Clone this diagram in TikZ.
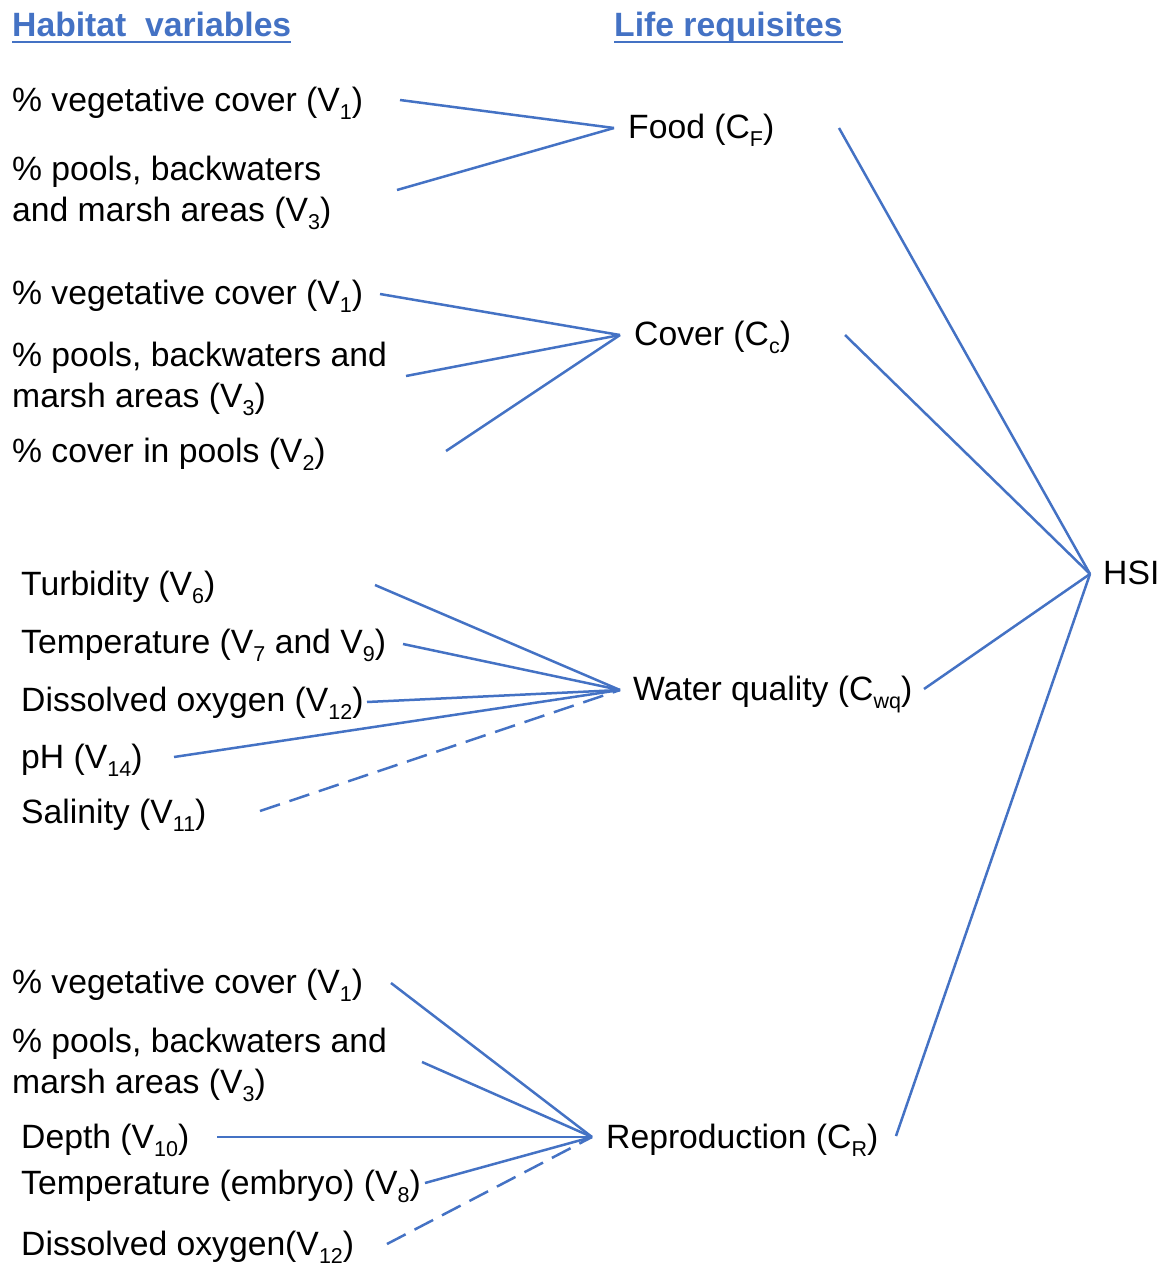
\documentclass[tikz,border=0pt]{standalone}
\usepackage{fontspec}
\setmainfont{Liberation Sans}
\definecolor{lnblue}{HTML}{4472C4}
\newcommand\sbx[1]{\raisebox{-0.25em}{\fontsize{21.5}{21.5}\selectfont #1}}
\begin{document}
\begin{tikzpicture}[x=1pt,y=-1pt,
  lbl/.style={anchor=base west, inner sep=0pt, font=\fontsize{33.7}{40}\selectfont},
  ttl/.style={lbl, font=\fontsize{33.7}{40}\selectfont\bfseries, text=lnblue},
  uline/.style={draw=lnblue, line width=2pt},
  link/.style={draw=lnblue, line width=2.5pt},
  dlink/.style={link, dash pattern=on 21pt off 10pt}]
\useasboundingbox (0,0) rectangle (1168,1266);

% titles
\node[ttl] (hv) at (12,36) {Habitat\ \ variables};
\node[ttl] (lr) at (614,36) {Life requisites};
\draw[uline] ([yshift=-6pt]hv.base west) -- ([yshift=-6pt]hv.base east);
\draw[uline] ([yshift=-6pt]lr.base west) -- ([yshift=-6pt]lr.base east);

% Food group
\node[lbl] (f1) at (12,111) {\% vegetative cover (V\sbx{1})};
\node[lbl] (f2a) at (12,180) {\% pools, backwaters};
\node[lbl] (f2b) at (12,221) {and marsh areas (V\sbx{3})};
\node[lbl] (food) at (628,138) {Food (C\sbx{F})};

% Cover group
\node[lbl] (c1) at (12,304) {\% vegetative cover (V\sbx{1})};
\node[lbl] (c2a) at (12,366) {\% pools, backwaters and};
\node[lbl] (c2b) at (12,407) {marsh areas (V\sbx{3})};
\node[lbl] (c3) at (12,462) {\% cover in pools (V\sbx{2})};
\node[lbl] (cover) at (634,345) {Cover (C\sbx{c})};

% Water quality group
\node[lbl] (w1) at (21,595) {Turbidity (V\sbx{6})};
\node[lbl] (w2) at (21,653) {Temperature (V\sbx{7} and V\sbx{9})};
\node[lbl] (w3) at (21,711) {Dissolved oxygen (V\sbx{12})};
\node[lbl] (w4) at (21,768) {pH (V\sbx{14})};
\node[lbl] (w5) at (21,823) {Salinity (V\sbx{11})};
\node[lbl] (wq) at (633,700) {Water quality (C\sbx{wq})};

% Reproduction group
\node[lbl] (r1) at (12,993) {\% vegetative cover (V\sbx{1})};
\node[lbl] (r2a) at (12,1052) {\% pools, backwaters and};
\node[lbl] (r2b) at (12,1093) {marsh areas (V\sbx{3})};
\node[lbl] (r3) at (21,1148) {Depth (V\sbx{10})};
\node[lbl] (r4) at (21,1194) {Temperature (embryo) (V\sbx{8})};
\node[lbl] (r5) at (21,1255) {Dissolved oxygen(V\sbx{12})};
\node[lbl] (repro) at (606,1148) {Reproduction (C\sbx{R})};

% HSI
\node[lbl] (hsi) at (1103,584) {HSI};

% connector end points
\coordinate (f1e) at (400,100);
\coordinate (f2e) at (397,190);
\coordinate (fh) at (614,128);
\coordinate (fo) at (839,128);

\coordinate (c1e) at (380,294);
\coordinate (c2e) at (406,376);
\coordinate (c3e) at (446,451);
\coordinate (ch) at (620,335);
\coordinate (co) at (845,335);

\coordinate (w1e) at (375,585);
\coordinate (w2e) at (403,644);
\coordinate (w3e) at (367,702);
\coordinate (w4e) at (174,757);
\coordinate (w5e) at (260,811);
\coordinate (wh) at (620,690);
\coordinate (wo) at (924,689);

\coordinate (r1e) at (391,983);
\coordinate (r2e) at (422,1062);
\coordinate (r3e) at (217,1137);
\coordinate (r4e) at (425,1183);
\coordinate (r5e) at (387,1244);
\coordinate (rh) at (592,1137);
\coordinate (ro) at (896,1136);

\coordinate (hh) at (1090,574);

% connectors
\draw[link] (f1e) -- (fh);
\draw[link] (f2e) -- (fh);

\draw[link] (c1e) -- (ch);
\draw[link] (c2e) -- (ch);
\draw[link] (c3e) -- (ch);

\draw[link] (w1e) -- (wh);
\draw[link] (w2e) -- (wh);
\draw[link] (w3e) -- (wh);
\draw[link] (w4e) -- (wh);
\draw[dlink] (w5e) -- (wh);

\draw[link] (r1e) -- (rh);
\draw[link] (r2e) -- (rh);
\draw[link] (r3e) -- (rh);
\draw[link] (r4e) -- (rh);
\draw[dlink] (r5e) -- (rh);

\draw[link] (fo) -- (hh);
\draw[link] (co) -- (hh);
\draw[link] (wo) -- (hh);
\draw[link] (ro) -- (hh);
\end{tikzpicture}
\end{document}
